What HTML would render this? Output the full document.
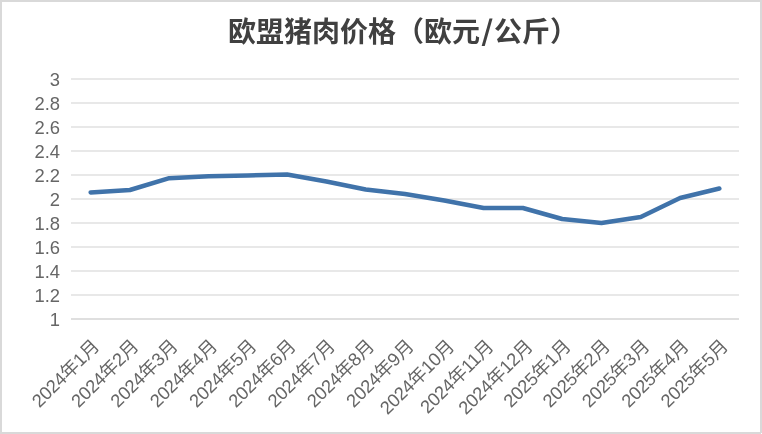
<!DOCTYPE html>
<html lang="zh-CN">
<head>
<meta charset="utf-8">
<title>欧盟猪肉价格（欧元/公斤）</title>
<style>
html,body{margin:0;padding:0;background:#fff;}
body{width:762px;height:434px;overflow:hidden;position:relative;}
svg{display:block;position:absolute;left:0;top:0;will-change:transform;}
.t{font-family:"Liberation Sans","Noto Sans CJK SC",sans-serif;font-weight:bold;font-size:28px;fill:#404040;}
.ax{font-family:"Liberation Sans","Noto Sans CJK SC",sans-serif;font-size:18.4px;fill:#666666;}
</style>
</head>
<body>
<svg width="762" height="434" viewBox="0 0 762 434">
<rect x="0" y="0" width="762" height="434" fill="#ffffff"/>
<rect x="1" y="1" width="760" height="432" fill="none" stroke="#d9d9d9" stroke-width="2"/>
<rect x="761" y="433" width="1" height="1" fill="#ffffff"/>

<g stroke="#e1e1e1" stroke-width="1.5" fill="none">
<line x1="71.0" y1="78.90" x2="739.0" y2="78.90"/>
<line x1="71.0" y1="102.91" x2="739.0" y2="102.91"/>
<line x1="71.0" y1="126.92" x2="739.0" y2="126.92"/>
<line x1="71.0" y1="150.93" x2="739.0" y2="150.93"/>
<line x1="71.0" y1="174.94" x2="739.0" y2="174.94"/>
<line x1="71.0" y1="198.95" x2="739.0" y2="198.95"/>
<line x1="71.0" y1="222.96" x2="739.0" y2="222.96"/>
<line x1="71.0" y1="246.97" x2="739.0" y2="246.97"/>
<line x1="71.0" y1="270.98" x2="739.0" y2="270.98"/>
<line x1="71.0" y1="294.99" x2="739.0" y2="294.99"/>
</g>
<line x1="71.0" y1="319.00" x2="739.0" y2="319.00" stroke="#d4d4d4" stroke-width="1.5"/>
<text class="t" x="227.9" y="42.4">欧盟猪肉价格（欧元</text>
<text class="t" transform="translate(481.3,41) scale(1.12,1)" style="font-family:'Noto Sans CJK SC',sans-serif">/</text>
<text class="t" x="494" y="42.4">公斤）</text>
<g class="ax" text-anchor="end">
<text x="60" y="86.30">3</text>
<text x="60" y="110.31">2.8</text>
<text x="60" y="134.32">2.6</text>
<text x="60" y="158.33">2.4</text>
<text x="60" y="182.34">2.2</text>
<text x="60" y="206.35">2</text>
<text x="60" y="230.36">1.8</text>
<text x="60" y="254.37">1.6</text>
<text x="60" y="278.38">1.4</text>
<text x="60" y="302.39">1.2</text>
<text x="60" y="326.40">1</text>
</g>
<g class="ax" text-anchor="end" style="letter-spacing:-0.27px">
<text transform="translate(100.35,347.55) rotate(-45)" x="0" y="0">2024年1月</text>
<text transform="translate(139.64,347.55) rotate(-45)" x="0" y="0">2024年2月</text>
<text transform="translate(178.94,347.55) rotate(-45)" x="0" y="0">2024年3月</text>
<text transform="translate(218.23,347.55) rotate(-45)" x="0" y="0">2024年4月</text>
<text transform="translate(257.52,347.55) rotate(-45)" x="0" y="0">2024年5月</text>
<text transform="translate(296.82,347.55) rotate(-45)" x="0" y="0">2024年6月</text>
<text transform="translate(336.11,347.55) rotate(-45)" x="0" y="0">2024年7月</text>
<text transform="translate(375.41,347.55) rotate(-45)" x="0" y="0">2024年8月</text>
<text transform="translate(414.70,347.55) rotate(-45)" x="0" y="0">2024年9月</text>
<text transform="translate(455.29,347.70) rotate(-45)" x="0" y="0">2024年10月</text>
<text transform="translate(494.59,347.70) rotate(-45)" x="0" y="0">2024年11月</text>
<text transform="translate(533.88,347.70) rotate(-45)" x="0" y="0">2024年12月</text>
<text transform="translate(571.88,347.55) rotate(-45)" x="0" y="0">2025年1月</text>
<text transform="translate(611.17,347.55) rotate(-45)" x="0" y="0">2025年2月</text>
<text transform="translate(650.46,347.55) rotate(-45)" x="0" y="0">2025年3月</text>
<text transform="translate(689.76,347.55) rotate(-45)" x="0" y="0">2025年4月</text>
<text transform="translate(729.05,347.55) rotate(-45)" x="0" y="0">2025年5月</text>
</g>
<polyline points="90.65,192.40 129.94,190.00 169.24,178.20 208.53,176.30 247.82,175.50 287.12,174.50 326.41,181.50 365.71,189.50 405.00,194.00 444.29,200.50 483.59,208.00 522.88,208.00 562.18,219.00 601.47,223.00 640.76,217.00 680.06,198.00 719.35,188.50" fill="none" stroke="#4073aa" stroke-width="4.5" stroke-linecap="round" stroke-linejoin="round"/>
</svg>
</body>
</html>
